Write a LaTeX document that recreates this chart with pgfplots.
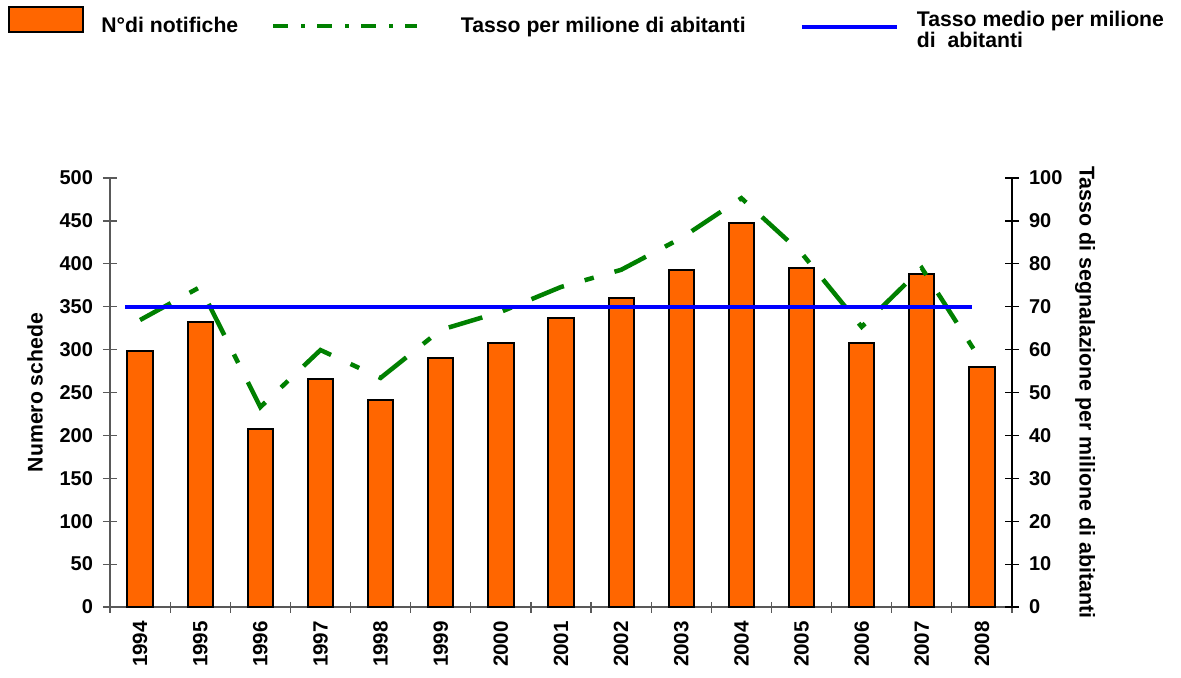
\documentclass[border=0pt]{standalone}
\usepackage{pgfplots}
\pgfplotsset{compat=1.18}
\usepackage{fontspec}
\setmainfont{Liberation Sans}
\definecolor{barorange}{RGB}{255,102,0}
\definecolor{lgreen}{RGB}{0,128,0}
\definecolor{lblue}{RGB}{0,0,255}
\begin{document}
\begin{tikzpicture}
\path (-55pt,-35pt) rectangle (535.5pt,303.5pt);
\begin{axis}[
  scale only axis, width=451pt, height=214.5pt,
  xmin=-0.5, xmax=14.5, ymin=0, ymax=500,
  axis x line*=bottom, axis y line*=left,
  axis line style={black!65, line width=0.6pt},
  every tick/.style={black!65, line width=0.6pt},
  xtick={0,...,14},
  xticklabels={1994,1995,1996,1997,1998,1999,2000,2001,2002,2003,2004,2005,2006,2007,2008},
  major x tick style={draw=none},
  minor xtick={-0.5,0.5,...,14.5},
  minor tick length=5.5pt,
  major tick length=7pt,
  xtick align=center, ytick align=center,
  ytick={0,50,...,500},
  /pgf/number format/assume math mode=true,
  yticklabel style={font=\fontsize{10}{10}\selectfont\bfseries, xshift=-1.5pt},
  xticklabel style={rotate=90, anchor=east, font=\fontsize{10.3}{10.3}\selectfont\bfseries},
  ylabel={Numero schede},
  ylabel style={at={(axis description cs:-0.083,0.5)}, anchor=center, font=\fontsize{10.6}{12}\selectfont\bfseries},
]
\addplot[ybar, bar width=0.42, fill=barorange, draw=black, line width=1pt] coordinates {
  (0,298) (1,332) (2,207) (3,266) (4,241) (5,290) (6,308) (7,337)
  (8,360) (9,393) (10,448) (11,395) (12,308) (13,388) (14,280)};
\end{axis}
\begin{axis}[
  scale only axis, width=451pt, height=214.5pt,
  xmin=-0.5, xmax=14.5, ymin=0, ymax=100,
  axis x line=none, axis y line*=right,
  axis line style={black, line width=0.6pt},
  every tick/.style={black, line width=0.6pt},
  xtick=\empty,
  ytick={0,10,...,100},
  major tick length=7pt, ytick align=center,
  /pgf/number format/assume math mode=true,
  yticklabel style={font=\fontsize{10}{10}\selectfont\bfseries, xshift=1.5pt},
  ylabel={Tasso di segnalazione per milione di abitanti},
  ylabel style={at={(axis description cs:1.081,0.5)}, anchor=center, rotate=180, font=\fontsize{10.7}{12}\selectfont\bfseries},
  legend columns=3,
  legend cell align=left,
  legend style={at={(axis description cs:-0.11275,1.40093)}, anchor=north west,
    draw=none, fill=none, inner sep=0pt, outer sep=0pt, column sep=0pt,
    font=\fontsize{10.6}{10.8}\selectfont\bfseries,
    nodes={inner sep=0pt, text height=6pt, text depth=0pt}},
]
\addlegendimage{legend image code/.code={
  \draw[fill=barorange, draw=black, line width=1pt] (0pt,-3pt) rectangle (36.7pt,9.5pt);
  \path (45.85pt,0pt);}}
\addlegendentry{\makebox[84.7pt][l]{N°di notifiche}}
\addplot[lgreen, line width=2.25pt, dash pattern=on 17.5pt off 10.75pt on 4.75pt off 10.75pt,
  legend image code/.code={
  \draw[lgreen, line width=2.3pt, dash pattern=on 7.4pt off 6.6pt on 1.8pt off 6.2pt] (0pt,0pt) -- (72pt,0pt);
  \path (92.8pt,0pt);}] coordinates {
  (0,66.9) (1,74.6) (2,46.6) (3,59.9) (4,53.4) (5,64.6) (6,68.8) (7,74.6)
  (8,78.6) (9,86.0) (10,95.3) (11,82.5) (12,65.3) (13,79.0) (14,57.1)};
\addlegendentry{\makebox[169.35pt][l]{Tasso per milione di abitanti}}
\addplot[lblue, line width=2pt,
  legend image code/.code={
  \draw[lblue, line width=2.3pt] (0pt,-0.4pt) -- (47.5pt,-0.4pt);
  \path (56.5pt,0pt);}] coordinates {(-0.25,70) (13.83,70)};
\addlegendentry{\raisebox{3pt}{\begin{tabular}[t]{@{}l@{}}Tasso medio per milione\\di\ \ abitanti\end{tabular}}}
\end{axis}
\end{tikzpicture}
\end{document}
